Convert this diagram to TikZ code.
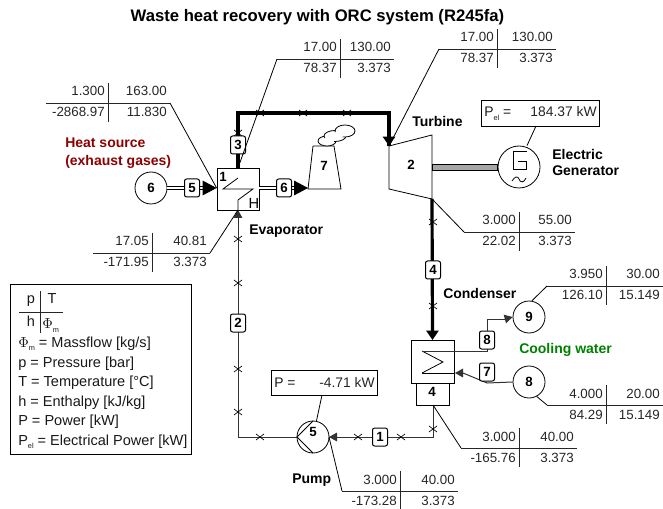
\documentclass[tikz,border=0pt]{standalone}
\usepackage{fontspec}
\setmainfont{Liberation Sans}
\usetikzlibrary{arrows.meta,calc}
\newcommand\subs[1]{\raisebox{-0.45ex}{\fontsize{5.5}{6}\selectfont #1}}
\newcommand\tbl[9]{%
  \coordinate (#1-l) at (#2,#5);
  \coordinate (#1-r) at (#4,#5);
  \draw[tline] (#1-l) -- (#1-r);
  \draw[tline] (#3,#5-20) -- (#3,#5+19);
  \node[val] (#1-a) at (#3-3,#5-7) {#6};
  \node[val] (#1-b) at (#4-3,#5-7) {#7};
  \node[val] (#1-c) at (#3-3,#5+14) {#8};
  \node[val] (#1-d) at (#4-3,#5+14) {#9};
}
\tikzset{
  tline/.style={line width=0.6pt,black!85},
  lead/.style={line width=0.6pt,black},
  pipe/.style={line width=0.75pt,black!80},
  thickpipe/.style={line width=2.4pt,black},
  hs/.style={line width=0.7pt,double=white,double distance=1.5pt,black},
  val/.style={anchor=base east,inner sep=0pt,font=\fontsize{10}{12}\selectfont,text=black!85},
  pval/.style={anchor=base east,inner sep=0pt,font=\fontsize{10.4}{12}\selectfont,text=black!85},
  txt/.style={anchor=base west,inner sep=0pt,font=\fontsize{10.4}{12}\selectfont,text=black!90},
  legt/.style={anchor=base west,inner sep=0pt,font=\fontsize{10.9}{12}\selectfont,text=black!90},
  ctxt/.style={anchor=base,inner sep=0pt,font=\fontsize{10.9}{12}\selectfont,text=black!90},
  num/.style={inner sep=0pt,font=\bfseries\fontsize{10}{12}\selectfont},
  blab/.style={anchor=base west,inner sep=0pt,font=\bfseries\fontsize{10.5}{12.5}\selectfont},
  sbox/.style={draw,line width=0.75pt,rounded corners=1.6pt,fill=white,minimum width=11.25pt,minimum height=13.5pt,inner sep=0pt,font=\bfseries\fontsize{10}{12}\selectfont},
  circ/.style={draw,circle,line width=0.6pt,fill=white,minimum size=24pt,inner sep=0pt,font=\bfseries\fontsize{10}{12}\selectfont},
  rbox/.style={draw,line width=0.6pt,fill=white,inner sep=0pt},
  bigtip/.style={-{Triangle[length=10.5pt,width=11pt]},line width=0.75pt},
  smalltip/.style={-{Triangle[length=6pt,width=6.5pt]}},
}
\begin{document}
\begin{tikzpicture}[x=0.75pt,y=-0.75pt]
\useasboundingbox (0,0) rectangle (663,509);

\node[anchor=base,inner sep=0pt,font=\bfseries\fontsize{12.5}{15}\selectfont] (title) at (317.5,22) {Waste heat recovery with ORC system (R245fa)};

% equipment nodes
\node[rbox,minimum width=31.5pt,minimum height=31.5pt] (ev) at (238,189) {};
\coordinate (evN) at (238,168);
\coordinate (evS) at (238,210);
\node[circ] (src) at (151,188) {6};
\node[circ,minimum size=31.5pt] (gen) at (519,167) {};
\node[circ] (c9) at (529,317) {9};
\node[circ] (c8) at (529,382) {8};
\node[circ] (pu) at (313,437) {};
\node[rbox,minimum width=24.25pt,minimum height=16.5pt] (cb) at (433,394) {};
\node[rbox,minimum width=32.25pt,minimum height=32.25pt] (co) at (432.5,361.5) {};
\node[num] (cb4) at (432,392) {4};

% turbine
\coordinate (t1) at (389,146); \coordinate (t2) at (432,135);
\coordinate (t3) at (432,199); \coordinate (t4) at (389,189);
\draw[line width=0.6pt] (t1) -- (t2) -- (t3) -- (t4) -- cycle;
\node[num] (tn) at (411,165) {2};
% shaft
\draw[line width=0.6pt,fill=black!35] (t2 |- 0,164) rectangle (gen.west |- 0,170);

% stack
\draw[line width=0.6pt] (308,189) -- (313,146) -- (334,146) -- (341,189) -- cycle;
\node[num] (sn) at (324,166) {7};
\draw[line width=0.6pt,fill=white] (327,141) ellipse (9 and 5);
\draw[line width=0.6pt,fill=white] (335,136) ellipse (11 and 5.5);
\draw[line width=0.6pt,fill=white] (345,131) ellipse (10 and 6);
\fill[white] (329,140) ellipse (6 and 3);
\fill[white] (340,134) ellipse (6 and 3);

% evaporator internals
\draw[line width=0.6pt] (evN) ++(0,10) -- (223,189) -- (253,189) -- (238,200) -- (evS);
\node[num] (e1) at (223,177) {1};
\node[anchor=center,inner sep=0pt,font=\fontsize{11}{12}\selectfont] (eh) at (254,203) {H};

% condenser internals
\draw[line width=0.6pt] (422,351) -- (443,362) -- (422,373);

% pump internals
\draw[line width=0.6pt] (313,421) -- (297,437) -- (313,453);
\node[num] (pn) at (313,432) {5};

% generator glyph
\draw[line width=0.75pt] (527,152) -- (513,152) -- (513,170) -- (526,170) -- (526,162) -- (518,162);
\draw[line width=0.6pt] (512,181) .. controls (515,176) and (518,176) .. (519,179) .. controls (520,183) and (524,183) .. (526,178);

% junction coordinates
\coordinate (p1) at (238,113);
\coordinate (p2) at (389,113);
\coordinate (p3) at (433,437);
\coordinate (p4) at (238,437);
\coordinate (p5) at (238,218);
\coordinate (p6) at (487,319);
\coordinate (p7) at (487,351);
\coordinate (p8) at (487,383);
\coordinate (p9) at (422,351);
\coordinate (p10) at (422,373);
\coordinate (p11) at (433,405);
\coordinate (a5) at (203,188);
\coordinate (a6) at (295,188);
\coordinate (a7) at (308,188);
\coordinate (a8) at (338,437);
\coordinate (a9) at (329,437);
\coordinate (co-in) at (432.5,340);
\coordinate (co-ar) at (463,373);
\coordinate (co-tip) at (455,373);
\coordinate (a10) at (505,319);

% connectors
\draw[thickpipe] (evN) -- (p1) -- (p2) -- (t1);
\draw[thickpipe,-{Triangle[length=7pt,width=9pt]}] (p2) -- (t1);
\draw[thickpipe,-{Triangle[length=7pt,width=9pt]}] (t3) -- (co-in);
\draw[hs] (src) -- (a5);
\draw[bigtip] (a5) -- (ev.west |- a5);
\draw[hs] (ev.east |- a6) -- (a6);
\draw[bigtip] (a6) -- (a7);
\draw[pipe] (p11) -- (p3) -- (a8);
\draw[smalltip,pipe] (a8) -- (a9);
\draw[pipe] (pu.west) -- (p4) -- (p5);
\draw[smalltip,pipe] (p5) -- (evS);
\draw[pipe] (p9) -- (p7) -- (p6) -- (a10);
\draw[smalltip,pipe] (a10) -- (c9.west);
\draw[pipe] (c8.west) -- (p8) -- (co-ar);
\draw[smalltip,pipe] (co-ar) -- (co-tip);
\draw[line width=0.6pt] (co-tip) -- (p10);
\draw[pipe] (pu.east) -- (a9);

% stream boxes
\node[sbox] (s5) at (192,188) {5};
\node[sbox] (s6) at (284,188) {6};
\node[sbox] (s3) at (238,145) {3};
\node[sbox] (s2) at (238,323) {2};
\node[sbox] (s1) at (380,437) {1};
\node[sbox] (s4) at (433,270) {4};
\node[sbox] (s8) at (487,340) {8};
\node[sbox] (s7) at (487,372) {7};

% tick marks
\foreach \x/\y in {260/113,303/113,347/113,238/133,238/239,238/283,238/369,238/412,260/437,358/437,401/437,433/429,433/222,433/306}{
  \draw[line width=0.5pt] (\x-4,\y-3) -- (\x+4,\y+3) (\x-4,\y+3) -- (\x+4,\y-3);
}

% tables
\tbl{ta}{277}{340}{394}{59}{17.00}{130.00}{78.37}{3.373}
\tbl{tb}{439}{497}{556}{49}{17.00}{130.00}{78.37}{3.373}
\tbl{tc}{46}{108}{170}{103}{1.300}{163.00}{-2868.97}{11.830}
\tbl{td}{93}{152}{210}{253}{17.05}{40.81}{-171.95}{3.373}
\tbl{te}{464}{519}{575}{232}{3.000}{55.00}{22.02}{3.373}
\tbl{tf}{547}{606}{663}{286}{3.950}{30.00}{126.10}{15.149}
\tbl{tg}{547}{606}{663}{405}{4.000}{20.00}{84.29}{15.149}
\tbl{th}{461}{519}{577}{448}{3.000}{40.00}{-165.76}{3.373}
\tbl{ti}{342}{400}{458}{491}{3.000}{40.00}{-173.28}{3.373}

% table leaders
\draw[lead] (ta-l) -- (evN);
\draw[lead] (tb-l) -- (t1);
\draw[lead] (tc-r) -- (ev.west |- a5);
\draw[lead] (td-r) -- (evS);
\draw[lead] (te-l) -- (t3);
\draw[lead] (tf-l) -- (c9.80);
\draw[lead] (tg-l) -- (c8.-62);
\draw[lead] (th-l) -- (p11);
\draw[lead] (ti-l) -- (a9);

% power boxes
\node[rbox,minimum width=88.5pt,minimum height=19.5pt] (pel) at (540,113) {};
\node[txt] (pel-l) at (484,117) {P\subs{el} =};
\node[pval] (pel-v) at (597,117) {184.37 kW};
\draw[lead] (536,126) -- (gen.north -| 527,147);
\node[rbox,minimum width=79.5pt,minimum height=18.75pt] (pp) at (324,382.5) {};
\node[txt] (pp-l) at (274,387) {P =};
\node[pval] (pp-v) at (375,387) {-4.71 kW};
\draw[lead] (322,395) -- (pu);

% labels
\node[blab] (l1) at (249,235) {Evaporator};
\node[blab] (l2) at (412,127) {Turbine};
\node[blab] (l3) at (552,160) {Electric};
\node[blab] (l4) at (552,176) {Generator};
\node[blab] (l5) at (443,299) {Condenser};
\node[blab,text=green!50!black] (l6) at (519,353) {Cooling water};
\node[blab] (l7) at (292,483) {Pump};
\node[blab,text=red!55!black] (l8) at (65,148) {Heat source};
\node[blab,text=red!55!black] (l9) at (65,166) {(exhaust gases)};

% legend
\node[rbox,minimum width=135.75pt,minimum height=127.5pt] (leg) at (100.5,369) {};
\draw[tline] (19,312) -- (63,312);
\draw[tline] (40,291) -- (40,333);
\node[ctxt] (lp) at (31,304) {p};
\node[ctxt] (lT) at (52,304) {T};
\node[ctxt] (lh) at (31,326) {h};
\node[legt] (lf) at (42,329) {$\Phi$\subs{m}};
\node[legt] (g1) at (18,347) {$\Phi$\subs{m} = Massflow [kg/s]};
\node[legt] (g2) at (18,367) {p = Pressure [bar]};
\node[legt] (g3) at (18,386) {T = Temperature [°C]};
\node[legt] (g4) at (18,406) {h = Enthalpy [kJ/kg]};
\node[legt] (g5) at (18,425) {P = Power [kW]};
\node[legt] (g6) at (18,445) {P\subs{el} = Electrical Power [kW]};
\end{tikzpicture}
\end{document}
